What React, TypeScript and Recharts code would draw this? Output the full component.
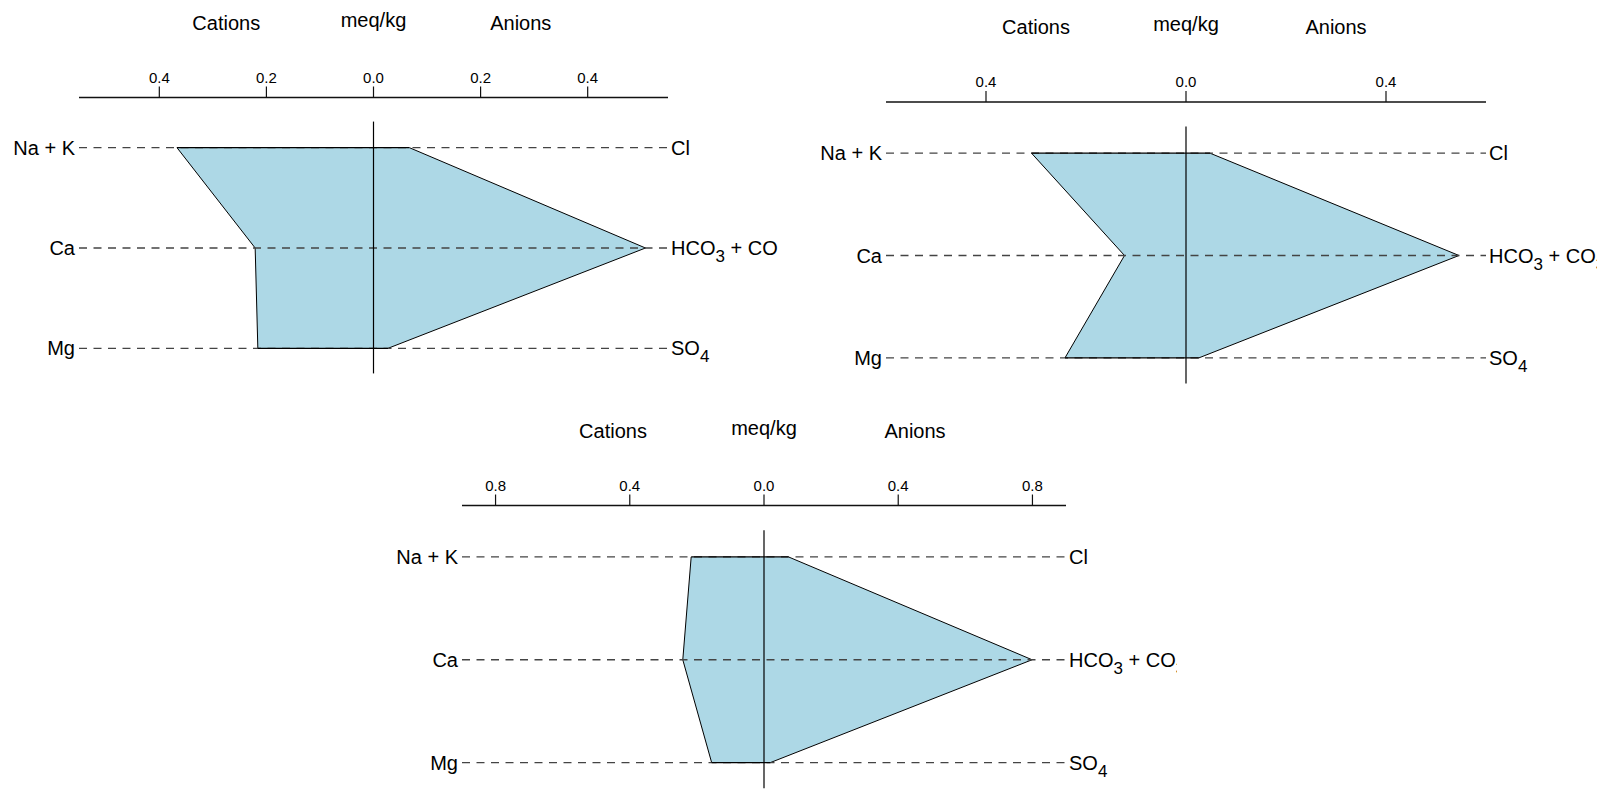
import React from 'react'
import { Area, ComposedChart, ReferenceLine, XAxis, YAxis } from 'recharts'

// Stiff diagrams, meq/kg. Cations plot left of zero, anions right.
const CATIONS = ['Na + K', 'Ca', 'Mg']
const ANIONS = ['Cl', 'HCO3 + CO3', 'SO4']

const SITE_A_CATIONS = [0.367, 0.221, 0.216]
const SITE_A_ANIONS = [0.067, 0.508, 0.027]
const SITE_B_CATIONS = [0.309, 0.123, 0.242]
const SITE_B_ANIONS = [0.048, 0.546, 0.026]
const SITE_C_CATIONS = [0.217, 0.242, 0.156]
const SITE_C_ANIONS = [0.073, 0.799, 0.019]

const TICKS_A = [-0.4, -0.2, 0, 0.2, 0.4]
const TICKS_B = [-0.4, 0, 0.4]
const TICKS_C = [-0.8, -0.4, 0, 0.4, 0.8]

const FONT = '"Liberation Sans", Arial, Helvetica, sans-serif'
const FILL = '#add8e6'
const SUB_SHIFT = 7
const LABEL_BASELINE = 7

// rows sit on integer positions, half a row of room above and below
const ROWS = CATIONS.map((_, i) => i)
const ROW_DOMAIN: [number, number] = [-0.5, ROWS.length - 0.5]

interface Frame {
  left: number
  top: number
  width: number
  height: number
  axisY: number
  plotHeight: number
  leftW: number
  rightW: number
  titleY: number
}

// split "HCO3 + CO3" into text and subscript runs
function formulaSpans(label: string) {
  const parts = label.split(/(\d+)/).filter((p) => p !== '')
  let shifted = false
  return parts.map((part, i) => {
    const isSub = /^\d+$/.test(part)
    const dy = isSub && !shifted ? SUB_SHIFT : !isSub && shifted ? -SUB_SHIFT : undefined
    shifted = isSub
    return (
      <tspan key={i} dy={dy} fontSize={isSub ? 17 : undefined}>
        {part}
      </tspan>
    )
  })
}

function CationTick(props: any) {
  const { x, y, payload } = props
  return (
    <text x={x} y={y + LABEL_BASELINE} textAnchor="end" fontSize={20} fill="#000">
      {CATIONS[payload.value]}
    </text>
  )
}

function AnionTick(props: any) {
  const { x, y, payload } = props
  return (
    <text
      x={x}
      y={y + LABEL_BASELINE}
      textAnchor="start"
      fontSize={20}
      fill="#000"
      style={{ whiteSpace: 'pre' }}
    >
      {formulaSpans(ANIONS[payload.value] ?? '')}
    </text>
  )
}

interface PanelProps {
  cations: number[]
  anions: number[]
  domain: [number, number]
  ticks: number[]
  frame: Frame
}

function StiffPanel({ cations, anions, domain, ticks, frame }: PanelProps) {
  const { left, top, width, height, axisY, plotHeight, leftW, rightW, titleY } = frame
  const data = ROWS.map((row) => ({
    row,
    range: [-cations[row], anions[row]],
  }))
  const plotWidth = width - leftW - rightW
  const zeroX = leftW + (plotWidth * (0 - domain[0])) / (domain[1] - domain[0])
  const first = data[0]
  const last = data[data.length - 1]

  return (
    <div style={{ position: 'absolute', left, top, width, height }}>
      <ComposedChart
        layout="vertical"
        width={width}
        height={height}
        data={data}
        margin={{ top: 0, right: 0, bottom: height - axisY - plotHeight, left: 0 }}
      >
        <XAxis
          type="number"
          orientation="top"
          domain={domain}
          ticks={ticks}
          interval={0}
          height={axisY}
          tickSize={11}
          tickMargin={4}
          tickFormatter={(v: number) => Math.abs(v).toFixed(1)}
          tick={{ fontSize: 15, fill: '#000' }}
          tickLine={{ stroke: '#111', strokeWidth: 1.2 }}
          axisLine={{ stroke: '#111', strokeWidth: 1.6 }}
        />
        <YAxis
          yAxisId="left"
          type="number"
          dataKey="row"
          domain={ROW_DOMAIN}
          ticks={ROWS}
          width={leftW}
          interval={0}
          axisLine={false}
          tickLine={false}
          tickSize={0}
          tickMargin={4}
          tick={CationTick}
        />
        <YAxis
          yAxisId="right"
          orientation="right"
          type="number"
          dataKey="row"
          domain={ROW_DOMAIN}
          ticks={ROWS}
          width={rightW}
          interval={0}
          axisLine={false}
          tickLine={false}
          tickSize={0}
          tickMargin={3}
          tick={AnionTick}
        />
        <Area
          yAxisId="left"
          type="linear"
          dataKey="range"
          fill={FILL}
          fillOpacity={1}
          stroke="#000"
          strokeWidth={1}
          dot={false}
          activeDot={false}
          isAnimationActive={false}
        />
        {ROWS.map((row) => (
          <ReferenceLine
            key={row}
            yAxisId="left"
            y={row}
            stroke="#444"
            strokeWidth={1.3}
            strokeDasharray="8 6.5"
          />
        ))}
        <ReferenceLine
          yAxisId="left"
          segment={[
            { x: first.range[0], y: first.row },
            { x: first.range[1], y: first.row },
          ]}
          stroke="#000"
          strokeWidth={1.4}
        />
        <ReferenceLine
          yAxisId="left"
          segment={[
            { x: last.range[0], y: last.row },
            { x: last.range[1], y: last.row },
          ]}
          stroke="#000"
          strokeWidth={1.4}
        />
        {/* zero line runs a quarter row past the outer ions */}
        <ReferenceLine
          yAxisId="left"
          segment={[
            { x: 0, y: -0.26 },
            { x: 0, y: ROWS.length - 1 + 0.25 },
          ]}
          stroke="#000"
          strokeWidth={1.2}
        />
      </ComposedChart>
      <svg
        width={width}
        height={height}
        style={{ position: 'absolute', left: 0, top: 0, pointerEvents: 'none' }}
      >
        <g fontSize={20} fill="#000" textAnchor="middle">
          <text x={leftW + plotWidth * 0.25} y={titleY}>
            Cations
          </text>
          <text x={zeroX} y={titleY - 3}>
            meq/kg
          </text>
          <text x={leftW + plotWidth * 0.75} y={titleY}>
            Anions
          </text>
        </g>
      </svg>
    </div>
  )
}

export default function App() {
  return (
    <div
      style={{
        position: 'absolute',
        left: 0,
        top: 0,
        width: 1604,
        height: 791,
        overflow: 'hidden',
        background: '#fff',
        fontFamily: FONT,
      }}
    >
      <StiffPanel
        cations={SITE_A_CATIONS}
        anions={SITE_A_ANIONS}
        domain={[-0.55, 0.55]}
        ticks={TICKS_A}
        frame={{ left: 0, top: 0, width: 778, height: 400, axisY: 97.5, plotHeight: 301, leftW: 79, rightW: 110, titleY: 29.5 }}
      />
      <StiffPanel
        cations={SITE_B_CATIONS}
        anions={SITE_B_ANIONS}
        domain={[-0.6, 0.6]}
        ticks={TICKS_B}
        frame={{ left: 800, top: 0, width: 797, height: 412, axisY: 102, plotHeight: 307, leftW: 86, rightW: 111, titleY: 34 }}
      />
      <StiffPanel
        cations={SITE_C_CATIONS}
        anions={SITE_C_ANIONS}
        domain={[-0.9, 0.9]}
        ticks={TICKS_C}
        frame={{ left: 390, top: 400, width: 787, height: 420, axisY: 105.5, plotHeight: 308.5, leftW: 72, rightW: 111, titleY: 37.5 }}
      />
    </div>
  )
}
